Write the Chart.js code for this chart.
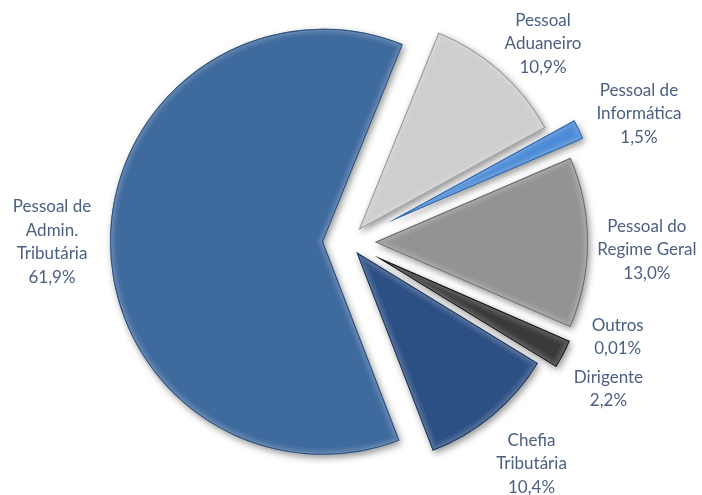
<!DOCTYPE html>
<html>
<head>
<meta charset="utf-8">
<script src="https://cdn.jsdelivr.net/npm/chart.js@4/dist/chart.umd.min.js"></script>
<style>
  html, body { margin: 0; padding: 0; background: #ffffff; }
  canvas { display: block; }
</style>
</head>
<body>
<canvas id="chart" width="702" height="495"></canvas>
<script>
// Staff categories (multi-line names) and their share of the total, in percent
const categories = [
  ['Pessoal', 'Aduaneiro'],
  ['Pessoal de', 'Informática'],
  ['Pessoal do', 'Regime Geral'],
  ['Outros'],
  ['Dirigente'],
  ['Chefia', 'Tributária'],
  ['Pessoal de', 'Admin.', 'Tributária']
];
const shares = [10.9, 1.5, 13.0, 0.01, 2.2, 10.4, 61.9];

// Slice styling
const sliceColors = ['#cecece', '#4a8ad6', '#939393', '#7a7a7a', '#3a3a3a', '#2d5084', '#3e6a9e'];
const edgeColors  = ['#9a9a9a', '#2f65a8', '#6a6a6a', '#555555', '#1c1c1c', '#1b3558', '#2c4f7a'];
const explode     = [16, 44, 27, 30, 30, 13, 25];      // px each slice is pulled out
const labelDistance = [278, 318, 299, 286, 299, 288, 296];
const labelTurn     = [2.9, 2.2, 1.4, -4.1, 1.9, 0.2, -0.5]; // degrees, relative to slice bisector

function pct(v) {
  return v.toFixed(v < 0.1 ? 2 : 1).replace('.', ',') + '%';
}

function wedge(ctx, x, y, r, a0, a1) {
  ctx.beginPath();
  ctx.moveTo(x, y);
  ctx.arc(x, y, r, a0, a1);
  ctx.closePath();
}

// Draws each slice pulled out along its bisector, with a soft shadow and bevelled rim
const explodedPie = {
  id: 'explodedPie',
  beforeDatasetDraw(chart, args) {
    const ctx = chart.ctx;
    args.meta.data.forEach((arc, i) => {
      const mid = (arc.startAngle + arc.endAngle) / 2;
      const d = explode[i];
      ctx.save();
      ctx.translate(Math.cos(mid) * d, Math.sin(mid) * d);

      ctx.save();
      ctx.shadowColor = 'rgba(0,0,0,0.42)';
      ctx.shadowBlur = 7;
      ctx.shadowOffsetX = 2;
      ctx.shadowOffsetY = 3;
      arc.draw(ctx);
      ctx.restore();

      ctx.save();
      wedge(ctx, arc.x, arc.y, arc.outerRadius, arc.startAngle, arc.endAngle);
      ctx.clip();
      ctx.lineJoin = 'round';
      [[13, 0.06], [8, 0.08], [4, 0.10]].forEach(([w, a]) => {
        ctx.lineWidth = w;
        ctx.strokeStyle = 'rgba(255,255,255,' + a + ')';
        ctx.stroke();
      });
      ctx.lineWidth = 2;
      ctx.strokeStyle = edgeColors[i];
      ctx.stroke();
      ctx.restore();

      ctx.restore();
    });
    return false;
  }
};

// Category name plus percentage beside each slice
const sliceLabels = {
  id: 'sliceLabels',
  afterDraw(chart) {
    const ctx = chart.ctx;
    const meta = chart.getDatasetMeta(0);
    ctx.save();
    ctx.font = '17px Lato';
    ctx.fillStyle = '#4a5f82';
    ctx.textAlign = 'center';
    ctx.textBaseline = 'middle';
    const lh = 23.5;
    meta.data.forEach((arc, i) => {
      const a = (arc.startAngle + arc.endAngle) / 2 + labelTurn[i] * Math.PI / 180;
      const cx = arc.x + Math.cos(a) * labelDistance[i];
      const cy = arc.y + Math.sin(a) * labelDistance[i];
      const lines = [].concat(categories[i], [pct(shares[i])]);
      lines.forEach((t, k) => {
        ctx.fillText(t, cx, cy + (k - (lines.length - 1) / 2) * lh);
      });
    });
    ctx.restore();
  }
};

function draw() {
  new Chart(document.getElementById('chart'), {
    type: 'pie',
    data: {
      labels: categories,
      datasets: [{
        data: shares,
        backgroundColor: sliceColors,
        borderWidth: 0,
        hoverOffset: 0
      }]
    },
    options: {
      responsive: false,
      animation: false,
      events: [],
      rotation: 22,
      radius: 213,
      layout: { padding: { left: 100, right: 106, top: 10, bottom: 21 } },
      plugins: {
        legend: { display: false },
        tooltip: { enabled: false }
      }
    },
    plugins: [explodedPie, sliceLabels]
  });
}

if (document.fonts && document.fonts.load) {
  document.fonts.load('17px Lato').then(draw, draw);
} else {
  draw();
}
</script>
</body>
</html>
